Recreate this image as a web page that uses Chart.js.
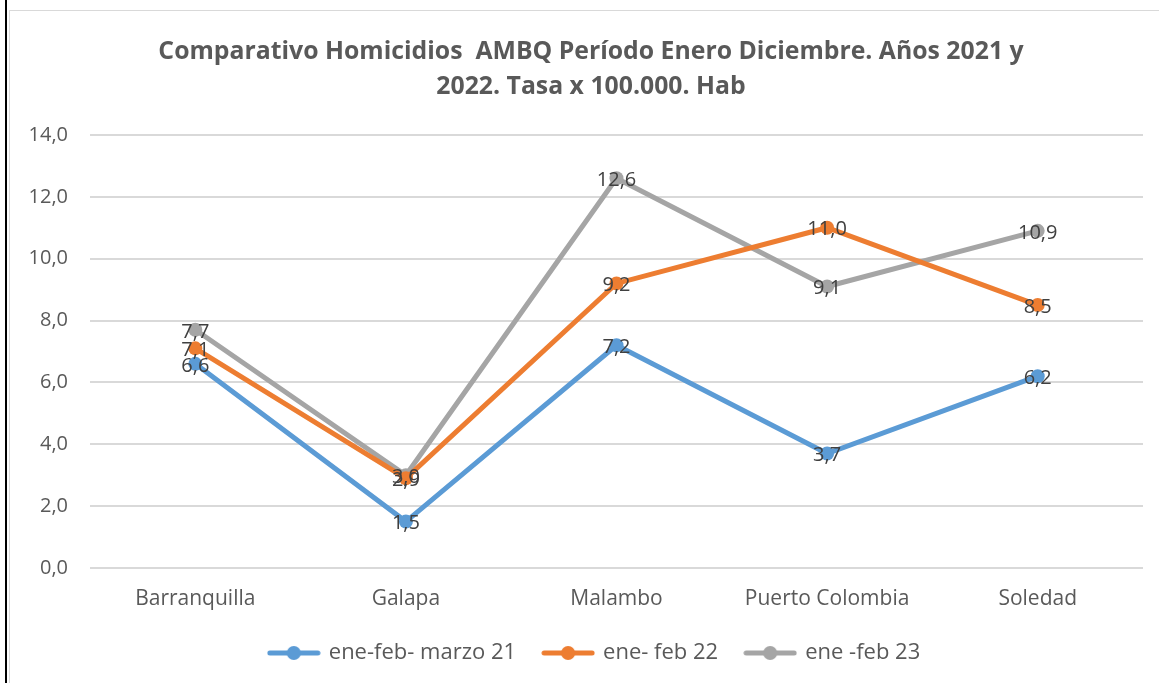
<!DOCTYPE html>
<html>
<head>
<meta charset="utf-8">
<script src="https://cdn.jsdelivr.net/npm/chart.js@4.4.0/dist/chart.umd.min.js"></script>
<style>
  body { margin: 0; background: #fff; }
  #edge { position: absolute; left: 5px; top: 0; width: 2px; height: 683px; background: #000; }
  #frame { position: absolute; left: 9px; top: 10px; width: 1160px; height: 700px; border: 1px solid #d9d9d9; }
  #wrap { position: absolute; left: 10px; top: 11px; width: 1149px; height: 672px; }
</style>
</head>
<body>
<div id="edge"></div>
<div id="frame"></div>
<div id="wrap"><canvas id="chart"></canvas></div>
<script>
// Data
const categories = ['Barranquilla', 'Galapa', 'Malambo', 'Puerto Colombia', 'Soledad'];
const serie21 = [6.6, 1.5, 7.2, 3.7, 6.2];
const serie22 = [7.1, 2.9, 9.2, 11.0, 8.5];
const serie23 = [7.7, 3.0, 12.6, 9.1, 10.9];
const seriesNames = ['ene-feb- marzo 21', 'ene- feb 22', 'ene -feb 23'];
const chartTitle = ['Comparativo Homicidios  AMBQ Período Enero Diciembre. Años 2021 y', '2022. Tasa x 100.000. Hab'];

const colors = ['#5B9BD5', '#ED7D31', '#A5A5A5'];
const FONT = '"Open Sans", sans-serif';

function fmt(v) {
  return v.toFixed(1).replace('.', ',');
}

// legend symbol: line with a dot in the middle, like Excel
function legendIcon(color) {
  const c = document.createElement('canvas');
  c.width = 54; c.height = 16;
  const ctx = c.getContext('2d');
  ctx.strokeStyle = color;
  ctx.lineWidth = 5;
  ctx.lineCap = 'round';
  ctx.beginPath();
  ctx.moveTo(3, 8); ctx.lineTo(51, 8);
  ctx.stroke();
  ctx.fillStyle = color;
  ctx.beginPath();
  ctx.arc(27, 8, 7, 0, Math.PI * 2);
  ctx.fill();
  return c;
}

// draws the values centred on every point
const valueLabels = {
  id: 'valueLabels',
  afterDatasetsDraw(chart) {
    const ctx = chart.ctx;
    ctx.save();
    ctx.font = '20px ' + FONT;
    ctx.fillStyle = '#404040';
    ctx.textAlign = 'center';
    ctx.textBaseline = 'middle';
    chart.data.datasets.forEach((ds, i) => {
      const meta = chart.getDatasetMeta(i);
      meta.data.forEach((pt, j) => {
        ctx.fillText(fmt(ds.data[j]), pt.x, pt.y + 2);
      });
    });
    ctx.restore();
  }
};

// the title and legend sit a little right of the canvas centre in the original
const nudge = {
  id: 'nudge',
  afterLayout(chart) {
    chart.titleBlock.left += 6;
    chart.titleBlock.right += 6;
    chart.legend.left += 10;
    chart.legend.right += 10;
  }
};

const datasets = [serie21, serie22, serie23].map((data, i) => ({
  label: seriesNames[i],
  data: data,
  borderColor: colors[i],
  backgroundColor: colors[i],
  borderWidth: 5,
  pointRadius: 7,
  pointHoverRadius: 7,
  pointBorderWidth: 0,
  tension: 0
}));

new Chart(document.getElementById('chart'), {
  type: 'line',
  data: { labels: categories, datasets: datasets },
  plugins: [valueLabels, nudge],
  options: {
    responsive: true,
    maintainAspectRatio: false,
    animation: false,
    layout: { padding: { left: 17, right: 16, top: 0, bottom: 9 } },
    plugins: {
      title: {
        display: true,
        text: chartTitle,
        color: '#595959',
        font: { family: FONT, size: 24.8, weight: 'bold', lineHeight: 1.41 },
        padding: { top: 23, bottom: 31 }
      },
      legend: {
        position: 'bottom',
        labels: {
          color: '#595959',
          font: { family: FONT, size: 22 },
          usePointStyle: true,
          pointStyleWidth: 48,
          boxHeight: 16,
          padding: 28,
          generateLabels(chart) {
            return chart.data.datasets.map((ds, i) => ({
              text: ds.label,
              fillStyle: colors[i],
              strokeStyle: colors[i],
              fontColor: '#595959',
              pointStyle: legendIcon(colors[i]),
              lineWidth: 0,
              hidden: false,
              datasetIndex: i
            }));
          }
        }
      },
      tooltip: { enabled: false }
    },
    scales: {
      x: {
        offset: true,
        grid: { display: false, drawTicks: false },
        border: { display: false },
        ticks: { color: '#595959', font: { family: FONT, size: 21 }, padding: 18 },
        afterFit: s => { s.height = 46; }
      },
      y: {
        min: 0,
        max: 14,
        ticks: {
          stepSize: 2,
          color: '#595959',
          font: { family: FONT, size: 20 },
          padding: 22,
          callback: v => fmt(v)
        },
        grid: { color: '#d9d9d9', lineWidth: 2, drawTicks: false },
        border: { display: false },
        afterFit: s => { s.width = 63; }
      }
    }
  }
});
</script>
</body>
</html>
